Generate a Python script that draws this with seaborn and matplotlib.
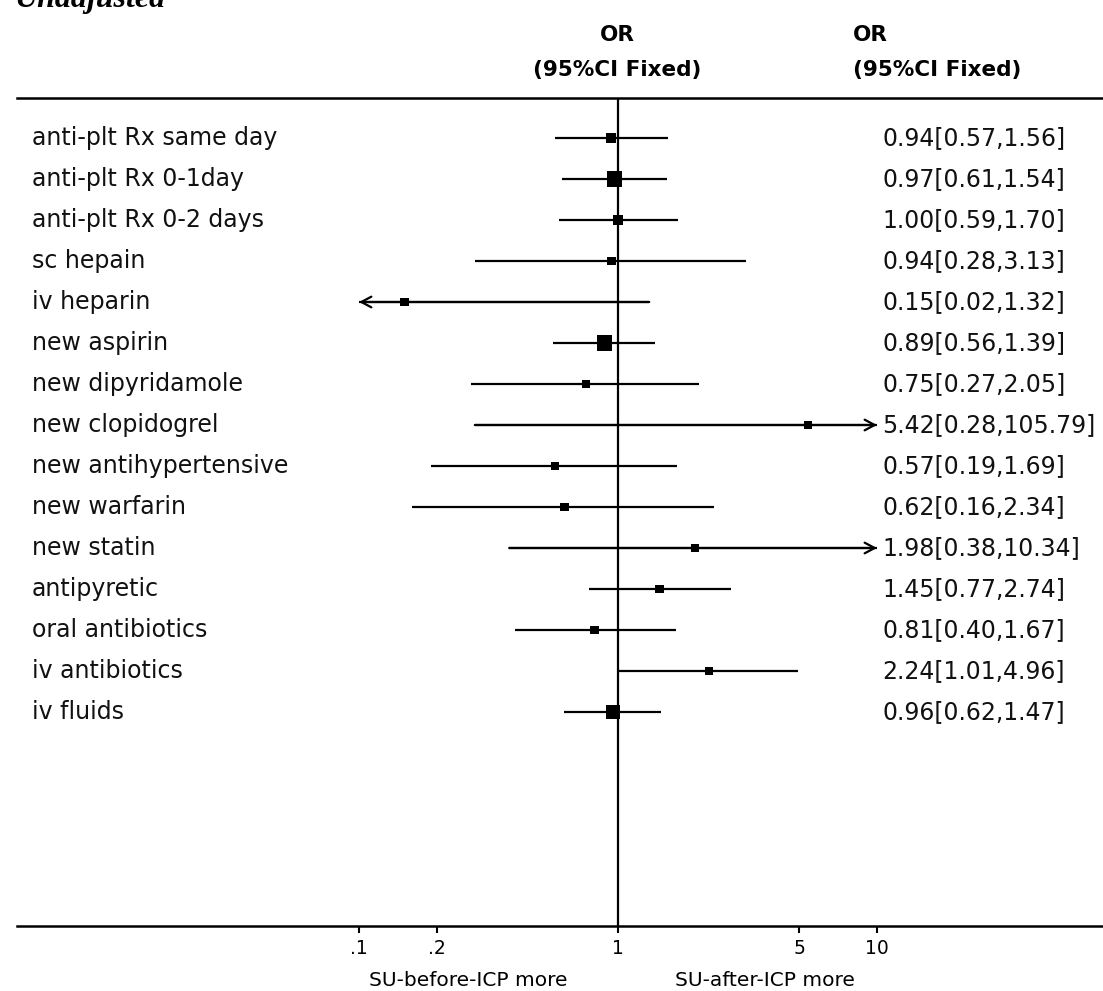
import matplotlib
matplotlib.use("Agg")
import matplotlib.pyplot as plt
from matplotlib.ticker import FixedLocator, FixedFormatter, NullLocator
import numpy as np
import pandas as pd
import seaborn as sns

# Outcome rows (top to bottom)
labels = [
    "anti-plt Rx same day", "anti-plt Rx 0-1day", "anti-plt Rx 0-2 days",
    "sc hepain", "iv heparin", "new aspirin", "new dipyridamole",
    "new clopidogrel", "new antihypertensive", "new warfarin", "new statin",
    "antipyretic", "oral antibiotics", "iv antibiotics", "iv fluids",
]
odds_ratio = [0.94, 0.97, 1.00, 0.94, 0.15, 0.89, 0.75, 5.42, 0.57, 0.62,
              1.98, 1.45, 0.81, 2.24, 0.96]
ci_low = [0.57, 0.61, 0.59, 0.28, 0.02, 0.56, 0.27, 0.28, 0.19, 0.16,
          0.38, 0.77, 0.40, 1.01, 0.62]
ci_high = [1.56, 1.54, 1.70, 3.13, 1.32, 1.39, 2.05, 105.79, 1.69, 2.34,
           10.34, 2.74, 1.67, 4.96, 1.47]
# relative weight of each estimate (drives box area)
weight = [10.0, 22.5, 10.0, 8.1, 8.1, 22.5, 6.4, 6.4, 6.4, 8.1,
          6.4, 8.1, 8.1, 6.4, 19.6]

tick_values = [0.1, 0.2, 1, 5, 10]
tick_labels = [".1", ".2", "1", "5", "10"]

df = pd.DataFrame({
    "label": labels, "or_value": odds_ratio, "lo": ci_low, "hi": ci_high,
    "weight": weight, "row": np.arange(len(labels)),
})

sns.set_theme(style="white")
plt.rcParams["font.family"] = ["DejaVu Sans"]
plt.rcParams["text.color"] = "black"
plt.rcParams["xtick.color"] = "black"

W, H = 1103, 991
fig = plt.figure(figsize=(W / 100, H / 100), dpi=100)
fig.patch.set_facecolor("white")


def px(x, y):
    """Figure pixel position (from top-left) to figure fraction."""
    return x / W, 1 - y / H


left_px, right_px, top_px, bottom_px = 17, 1103, 98, 926
ax = fig.add_axes([left_px / W, 1 - bottom_px / H,
                   (right_px - left_px) / W, (bottom_px - top_px) / H])

# log scale: 259 px per decade, OR = 1 at x = 618 px
dec = 259.0
x_one = 618.0
ax.set_xscale("log")
ax.set_xlim(10 ** ((left_px - x_one) / dec), 10 ** ((right_px - x_one) / dec))

row0, row_step = 138.0, 41.0
ax.set_ylim((bottom_px - row0) / row_step, (top_px - row0) / row_step)

# confidence intervals, clipped to [0.1, 10] with arrows when they run past
clip_lo, clip_hi = 0.1, 10.0
lw = 1.6
head = "->,head_length=0.6,head_width=0.32"
for r in df.itertuples():
    lo = max(r.lo, clip_lo)
    hi = min(r.hi, clip_hi)
    ax.hlines(r.row, lo, hi, color="black", lw=lw, zorder=2)
    if r.lo < clip_lo:
        ax.annotate("", xy=(clip_lo, r.row), xytext=(hi, r.row),
                    arrowprops=dict(arrowstyle=head, lw=lw, color="black",
                                    shrinkA=0, shrinkB=0), zorder=2)
    if r.hi > clip_hi:
        ax.annotate("", xy=(clip_hi, r.row), xytext=(lo, r.row),
                    arrowprops=dict(arrowstyle=head, lw=lw, color="black",
                                    shrinkA=0, shrinkB=0), zorder=2)

sns.scatterplot(data=df, x="or_value", y="row", size="weight",
                sizes=(33, 117), size_norm=(min(weight), max(weight)),
                marker="s", color="black", edgecolor="black", linewidth=0,
                legend=False, ax=ax, zorder=3)

ax.axvline(1, color="black", lw=lw, zorder=1)

for side in ("left", "right"):
    ax.spines[side].set_visible(False)
for side in ("top", "bottom"):
    ax.spines[side].set_visible(True)
    ax.spines[side].set_color("black")
    ax.spines[side].set_linewidth(1.8)

ax.set_xlabel("")
ax.set_ylabel("")
ax.set_yticks([])
ax.xaxis.set_major_locator(FixedLocator(tick_values))
ax.xaxis.set_major_formatter(FixedFormatter(tick_labels))
ax.xaxis.set_minor_locator(NullLocator())
ax.tick_params(axis="x", direction="out", length=5, width=1.5,
               labelsize=13.5, pad=4, colors="black", bottom=True, top=False)

# row labels and the OR [CI] column
for r in df.itertuples():
    y_px = row0 + row_step * r.row
    fig.text(*px(32, y_px), r.label, fontsize=17, va="center", ha="left",
             color="#111111")
    fig.text(*px(882, y_px), f"{r.or_value:.2f}[{r.lo:.2f},{r.hi:.2f}]",
             fontsize=17, va="center", ha="left", color="#111111")

# column headers
hdr = dict(fontsize=15.5, fontweight="bold", va="center", color="black")
fig.text(*px(617, 35), "OR", ha="center", **hdr)
fig.text(*px(617, 70), "(95%CI Fixed)", ha="center", **hdr)
fig.text(*px(853, 35), "OR", ha="left", **hdr)
fig.text(*px(853, 70), "(95%CI Fixed)", ha="left", **hdr)

# direction captions under the axis
fig.text(*px(468, 980), "SU-before-ICP more", fontsize=14.5, ha="center",
         va="center", color="black")
fig.text(*px(765, 980), "SU-after-ICP more", fontsize=14.5, ha="center",
         va="center", color="black")

# panel title running off the top edge
fig.text(*px(14, 7), "Unadjusted", fontsize=23, fontweight="bold",
         fontstyle="italic", family=["Liberation Serif", "DejaVu Serif"],
         ha="left", va="baseline", color="black")

fig.savefig("out.png", dpi=100, facecolor="white")
